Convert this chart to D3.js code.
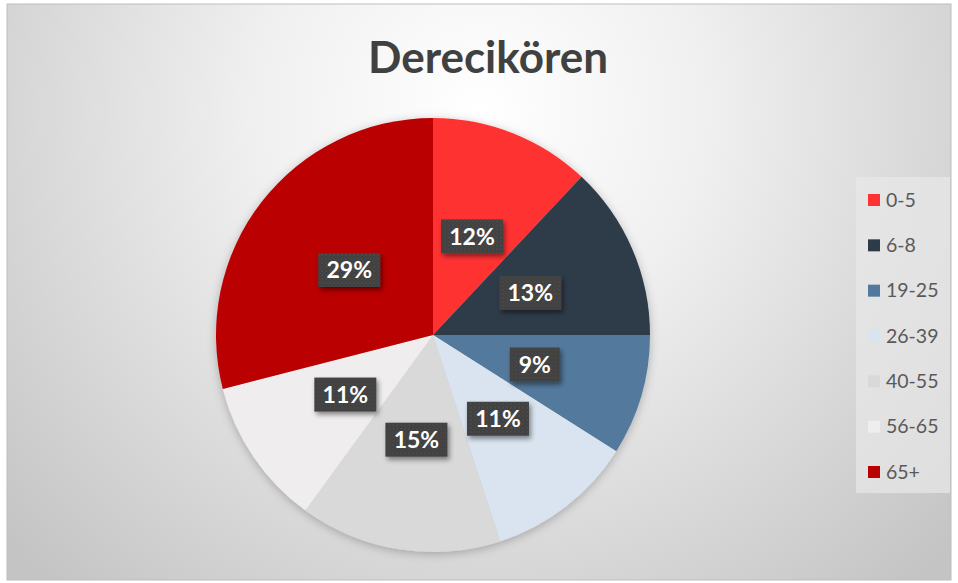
<!DOCTYPE html>
<html>
<head>
<meta charset="utf-8">
<script src="https://cdn.jsdelivr.net/npm/d3@7"></script>
<style>
  html, body { margin: 0; padding: 0; background: #fff; }
  svg { display: block; }
</style>
</head>
<body>
<div id="chart"></div>
<script>
// chart data
const title = "Derecikören";
const categories = ["0-5", "6-8", "19-25", "26-39", "40-55", "56-65", "65+"];
const values = [12, 13, 9, 11, 15, 11, 29];
const colors = ["#FF3333", "#2E3A48", "#52799C", "#D9E4F0", "#D9D9D9", "#EFEDED", "#BA0000"];

const width = 958, height = 583;
const cx = 433, cy = 335, radius = 217;
const font = "Lato, 'Noto Sans', sans-serif";

const svg = d3.select("#chart").append("svg")
  .attr("width", width)
  .attr("height", height);

const defs = svg.append("defs");

// background gradient
const bg = defs.append("radialGradient")
  .attr("id", "bg")
  .attr("gradientUnits", "userSpaceOnUse")
  .attr("cx", 480).attr("cy", 110).attr("r", 640);
bg.append("stop").attr("offset", "0%").attr("stop-color", "#ffffff");
bg.append("stop").attr("offset", "35%").attr("stop-color", "#f0f0f0");
bg.append("stop").attr("offset", "100%").attr("stop-color", "#c4c4c4");

// dotted texture for label boxes
const pat = defs.append("pattern")
  .attr("id", "dots")
  .attr("width", 4).attr("height", 4)
  .attr("patternUnits", "userSpaceOnUse");
pat.append("rect").attr("width", 4).attr("height", 4).attr("fill", "#404040");
pat.append("circle").attr("cx", 1).attr("cy", 1).attr("r", 0.7).attr("fill", "#555");
pat.append("circle").attr("cx", 3).attr("cy", 3).attr("r", 0.7).attr("fill", "#4a4a4a");

const shadow = defs.append("filter").attr("id", "shadow")
  .attr("x", "-20%").attr("y", "-20%").attr("width", "150%").attr("height", "160%");
shadow.append("feDropShadow")
  .attr("dx", 2).attr("dy", 3).attr("stdDeviation", 2.5)
  .attr("flood-color", "#000").attr("flood-opacity", 0.45);

const pieShadow = defs.append("filter").attr("id", "pieShadow")
  .attr("x", "-10%").attr("y", "-10%").attr("width", "120%").attr("height", "120%");
pieShadow.append("feDropShadow")
  .attr("dx", 0).attr("dy", 2).attr("stdDeviation", 5)
  .attr("flood-color", "#000").attr("flood-opacity", 0.25);

svg.append("rect")
  .attr("x", 7).attr("y", 4)
  .attr("width", 944).attr("height", 576)
  .attr("fill", "url(#bg)")
  .attr("stroke", "#bdbdbd")
  .attr("stroke-width", 1);

svg.append("text")
  .attr("x", 488).attr("y", 73)
  .attr("text-anchor", "middle")
  .attr("font-family", font)
  .attr("font-weight", "bold")
  .attr("font-size", 44)
  .attr("fill", "#404040")
  .text(title);

const data = categories.map((c, i) => ({ cat: c, value: values[i], color: colors[i] }));

const pie = d3.pie().sort(null).value(d => d.value);
const arcs = pie(data);
const total = d3.sum(values);

const arc = d3.arc().innerRadius(0).outerRadius(radius);
const labelArc = d3.arc().innerRadius(106).outerRadius(106);

const g = svg.append("g").attr("transform", `translate(${cx},${cy})`);

g.append("g")
  .attr("filter", "url(#pieShadow)")
  .selectAll("path")
  .data(arcs)
  .join("path")
  .attr("d", arc)
  .attr("fill", d => d.data.color);

const labels = g.selectAll("g.lbl")
  .data(arcs)
  .join("g")
  .attr("class", "lbl")
  .attr("transform", d => `translate(${labelArc.centroid(d)})`);

labels.append("rect")
  .attr("x", d => (d.data.value >= 10 ? -31 : -25))
  .attr("y", -17)
  .attr("width", d => (d.data.value >= 10 ? 62 : 50))
  .attr("height", 34)
  .attr("fill", "url(#dots)")
  .attr("filter", "url(#shadow)");

labels.append("text")
  .attr("text-anchor", "middle")
  .attr("dy", "0.36em")
  .attr("font-family", font)
  .attr("font-weight", "bold")
  .attr("font-size", 23)
  .attr("fill", "#ffffff")
  .text(d => Math.round(d.data.value / total * 100) + "%");

// legend
const legendY = d3.scalePoint()
  .domain(categories)
  .range([200, 472]);

svg.append("rect")
  .attr("x", 856).attr("y", 177)
  .attr("width", 94).attr("height", 316)
  .attr("fill", "#e8e8e8")
  .attr("opacity", 0.7);

const leg = svg.append("g").selectAll("g")
  .data(data)
  .join("g")
  .attr("transform", d => `translate(868,${legendY(d.cat)})`);

leg.append("rect")
  .attr("x", 0).attr("y", -6)
  .attr("width", 12).attr("height", 12)
  .attr("fill", d => d.color);

leg.append("text")
  .attr("x", 18)
  .attr("dy", "0.35em")
  .attr("font-family", font)
  .attr("font-size", 19.5)
  .attr("fill", "#595959")
  .text(d => d.cat);
</script>
</body>
</html>
